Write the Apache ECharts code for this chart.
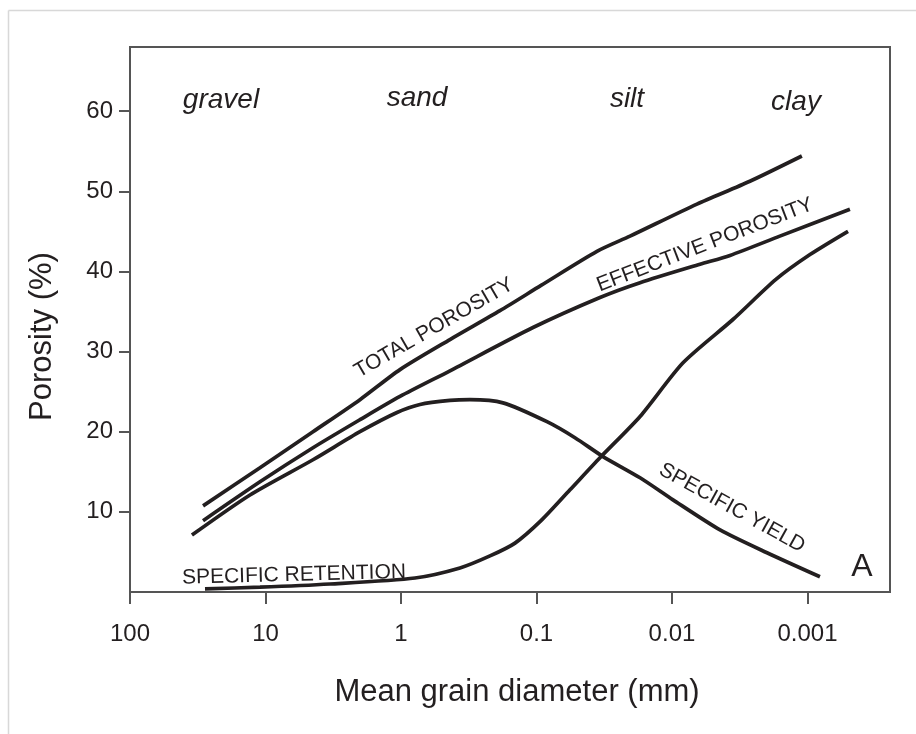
<!DOCTYPE html>
<html><head><meta charset="utf-8">
<script src="https://cdn.jsdelivr.net/npm/echarts@6/dist/echarts.min.js"></script>
<style>html,body{margin:0;padding:0;background:#fff}#c{width:916px;height:734px}</style>
</head><body><div id="c"></div>
<script>
// ---- data (grain diameter in mm, porosity in %) ----
const xTickValues = [100, 10, 1, 0.1, 0.01, 0.001];
const xTickLabels = ['100', '10', '1', '0.1', '0.01', '0.001'];
const yTickValues = [10, 20, 30, 40, 50, 60];
const classNames = ['gravel', 'sand', 'silt', 'clay'];
const curveNames = ['TOTAL POROSITY', 'EFFECTIVE POROSITY', 'SPECIFIC YIELD', 'SPECIFIC RETENTION'];

const totalD = [28.9, 10.98, 4.46, 2.008, 1.017, 0.435, 0.186, 0.0926, 0.0358, 0.0204, 0.00654, 0.00266, 0.00110];
const totalP = [10.75, 15.5, 20.0, 24.0, 27.75, 31.5, 35.1, 38.25, 42.5, 44.4, 48.4, 51.25, 54.4];

const effectiveD = [28.9, 10.98, 4.46, 2.008, 1.017, 0.435, 0.1061, 0.0340, 0.0172, 0.00621, 0.00373, 0.00160, 0.000486];
const effectiveP = [8.9, 13.75, 18.0, 21.5, 24.4, 27.6, 33.0, 36.75, 38.6, 40.9, 42.0, 44.4, 47.75];

const yieldD = [34.9, 13.01, 4.46, 2.008, 1.07, 0.724, 0.435, 0.310, 0.1767, 0.0837, 0.0520, 0.0323, 0.0172, 0.00983, 0.00442, 0.00199, 0.000809];
const yieldP = [7.1, 12.1, 16.5, 20.0, 22.4, 23.4, 23.9, 24.0, 23.6, 21.25, 19.25, 16.9, 14.25, 11.5, 7.75, 4.9, 1.9];

const retentionD = [27.96, 10.98, 3.34, 0.788, 0.367, 0.2204, 0.1441, 0.0926, 0.0566, 0.0340, 0.0172, 0.00829, 0.00355, 0.00171, 0.000958, 0.000502];
const retentionP = [0.4, 0.6, 1.0, 1.75, 3.0, 4.5, 6.1, 8.9, 12.75, 16.75, 21.9, 28.6, 34.0, 39.0, 42.1, 45.0];

// ---- chart ----
const FONT = "'Liberation Sans', Arial, Helvetica, sans-serif";
const INK = '#231f20';
const AXIS = '#555';
const pairs = (xs, ys) => xs.map((x, i) => [x, ys[i]]);

function curve(name, xs, ys) {
  return {
    name: name, type: 'line', data: pairs(xs, ys),
    showSymbol: false, symbol: 'none', smooth: 0.25,
    lineStyle: { color: INK, width: 3.7 },
    silent: true
  };
}

function label(text, x, y, deg, size, italic) {
  return {
    type: 'text', x: x, y: y, rotation: deg * Math.PI / 180, silent: true,
    style: { text: text, font: (italic ? 'italic ' : '') + size + 'px ' + FONT, fill: INK, align: 'center', verticalAlign: 'middle' }
  };
}

const chart = echarts.init(document.getElementById('c'), null, { renderer: 'canvas' });
chart.setOption({
  animation: false,
  backgroundColor: '#fff',
  grid: { left: 130, right: 26, top: 47, bottom: 142, show: true, borderColor: AXIS, borderWidth: 2, backgroundColor: 'transparent' },
  xAxis: {
    type: 'log', logBase: 10, inverse: true, min: 0.000246, max: 100,
    name: 'Mean grain diameter (mm)', nameLocation: 'middle', nameGap: 85,
    nameTextStyle: { fontFamily: FONT, fontSize: 31, color: INK, padding: [0, 0, 0, 14] },
    axisLine: { show: true, lineStyle: { color: AXIS, width: 2 } },
    axisTick: { show: true, length: 12, lineStyle: { color: AXIS, width: 2 }, customValues: xTickValues },
    axisLabel: {
      customValues: xTickValues, margin: 30, fontFamily: FONT, fontSize: 24, color: INK,
      formatter: function (v) {
        const i = xTickValues.findIndex(t => Math.abs(Math.log10(t) - Math.log10(v)) < 1e-6);
        return i >= 0 ? xTickLabels[i] : '';
      }
    },
    splitLine: { show: false }, minorTick: { show: false }
  },
  yAxis: {
    type: 'value', min: 0, max: 68,
    name: 'Porosity (%)', nameLocation: 'middle', nameGap: 72, nameRotate: 90,
    nameTextStyle: { fontFamily: FONT, fontSize: 31, color: INK, padding: [0, 34, 0, 0] },
    axisLine: { show: true, lineStyle: { color: AXIS, width: 2 } },
    axisTick: { show: true, length: 11, lineStyle: { color: AXIS, width: 2 }, customValues: yTickValues },
    axisLabel: { customValues: yTickValues, margin: 17, fontFamily: FONT, fontSize: 24, color: INK },
    splitLine: { show: false }
  },
  series: [
    curve(curveNames[0], totalD, totalP),
    curve(curveNames[1], effectiveD, effectiveP),
    curve(curveNames[2], yieldD, yieldP),
    curve(curveNames[3], retentionD, retentionP)
  ],
  graphic: [
    { type: 'line', shape: { x1: 8.5, y1: 10.5, x2: 916, y2: 10.5 }, style: { stroke: '#d8d8d8', lineWidth: 1.5 }, silent: true },
    { type: 'line', shape: { x1: 8.5, y1: 10.5, x2: 8.5, y2: 734 }, style: { stroke: '#d8d8d8', lineWidth: 1.5 }, silent: true },
    label(classNames[0], 221, 100, 0, 28, true),
    label(classNames[1], 417, 98, 0, 28, true),
    label(classNames[2], 627, 99, 0, 28, true),
    label(classNames[3], 796, 102, 0, 28, true),
    label(curveNames[0], 434, 328, 30, 21),
    label(curveNames[1], 705, 245, 21, 21),
    label(curveNames[2], 732, 508, -29, 21),
    label(curveNames[3], 294, 575, 1.5, 21),
    label('A', 862, 567, 0, 32)
  ]
});
</script>
</body></html>
